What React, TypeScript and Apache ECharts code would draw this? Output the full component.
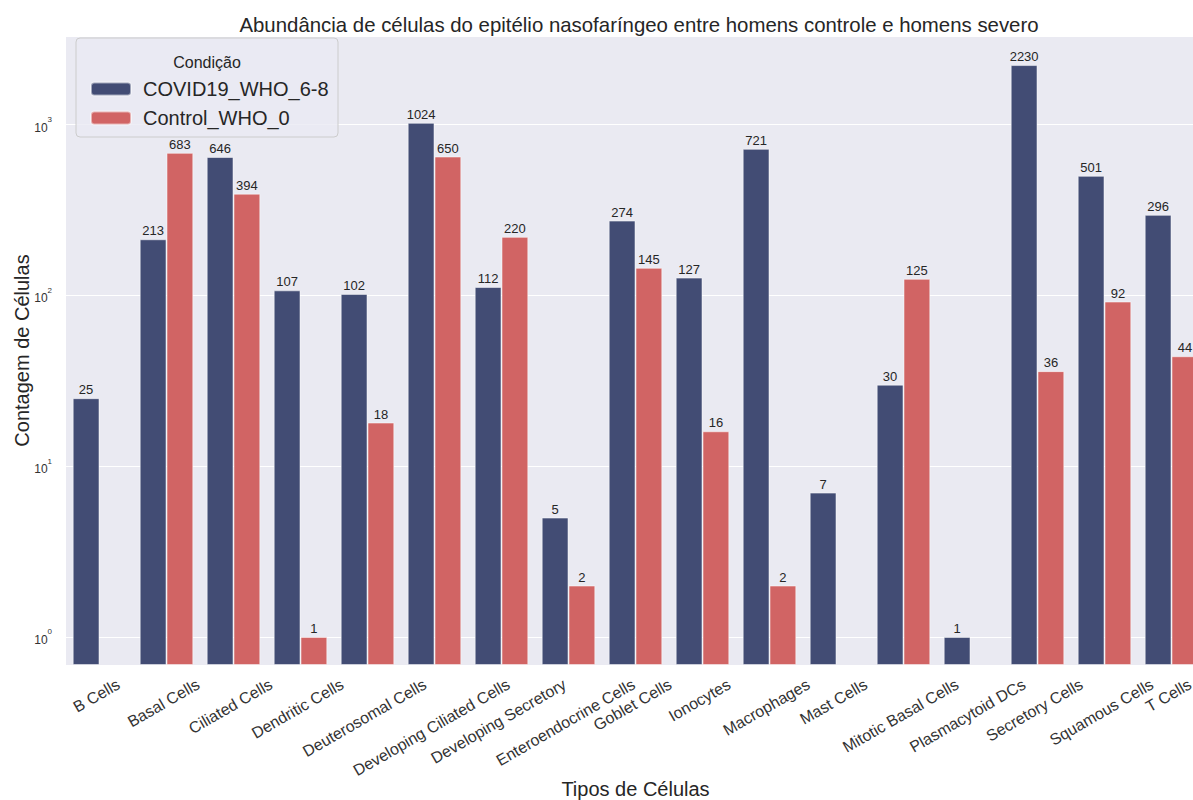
import React, { useEffect, useRef } from "react";
import * as echarts from "echarts";

const categories = [
  "B Cells", "Basal Cells", "Ciliated Cells", "Dendritic Cells", "Deuterosomal Cells",
  "Developing Ciliated Cells", "Developing Secretory", "Enteroendocrine Cells", "Goblet Cells",
  "Ionocytes", "Macrophages", "Mast Cells", "Mitotic Basal Cells", "Plasmacytoid DCs",
  "Secretory Cells", "Squamous Cells", "T Cells",
];
const covidValues = [25, 213, 646, 107, 102, 1024, 112, 5, 274, 127, 721, 7, 30, 1, 2230, 501, 296];
const controlValues = [null, 683, 394, 1, 18, 650, 220, 2, 145, 16, 2, null, 125, null, 36, 92, 44];
const seriesNames = ["COVID19_WHO_6-8", "Control_WHO_0"];
const colors = ["#424c74", "#d16464"];

const FONT = "'Liberation Sans', Arial, sans-serif";

export default function App() {
  const ref = useRef<HTMLDivElement>(null);
  useEffect(() => {
    if (!ref.current) return;
    const chart = echarts.init(ref.current, null, { renderer: "svg" });

    // measure label widths to center rotated labels under ticks (matplotlib-like ha=center)
    const cv = document.createElement("canvas");
    const ctx = cv.getContext("2d")!;
    ctx.font = "16px 'Liberation Sans', Arial, sans-serif";
    const rich: any = {};
    const dx = -3;
    categories.forEach((c, i) => {
      const w = ctx.measureText(c).width;
      const hb = w * 0.5 + 11.5 * 0.866;
      const D = 10 + hb / 2;
      const u = dx * 0.866 - D * 0.5;
      const v = dx * 0.5 + D * 0.866;
      rich["c" + i] = {
        fontSize: 16,
        fontFamily: FONT,
        color: "#333333",
        padding: [Math.max(0, 2 * v), Math.max(0, -2 * u), Math.max(0, -2 * v), Math.max(0, 2 * u)],
      };
    });

    const labelOpt = {
      show: true,
      position: "top",
      distance: 2,
      fontSize: 13,
      fontFamily: FONT,
      color: "#262626",
    };

    chart.setOption({
      animation: false,
      backgroundColor: "#ffffff",
      title: {
        text: "Abundância de células do epitélio nasofaríngeo entre homens controle e homens severo",
        left: 634,
        top: 10,
        textAlign: "center",
        textStyle: { fontSize: 20.4, fontWeight: "normal", color: "#262626", fontFamily: FONT },
      },
      grid: {
        left: 66,
        top: 36,
        width: 1139,
        height: 629,
        show: true,
        backgroundColor: "#eaeaf2",
        borderWidth: 0,
        outerBoundsMode: "none",
        containLabel: false,
      },
      legend: {
        data: seriesNames,
        orient: "vertical",
        left: 85,
        top: 73,
        itemWidth: 40,
        itemHeight: 13,
        itemGap: 7,
        z: 10,
        textStyle: { fontSize: 20, color: "#262626", fontFamily: FONT, padding: [0, 0, 0, 7], lineHeight: 22 },
      },
      graphic: [
        {
          type: "rect",
          z: 5,
          shape: { x: 76, y: 38, width: 262, height: 99, r: 4 },
          style: { fill: "rgba(234,234,242,0.8)", stroke: "#cccccc", lineWidth: 1 },
        },
        {
          type: "text",
          z: 6,
          x: 207,
          y: 62,
          style: {
            text: "Condição",
            fontSize: 16,
            fontFamily: FONT,
            fill: "#262626",
            align: "center",
            verticalAlign: "middle",
          },
        },
      ],
      xAxis: {
        type: "category",
        data: categories,
        name: "Tipos de Células",
        nameLocation: "middle",
        nameGap: 114,
        nameMoveOverlap: false,
        nameTextStyle: { fontSize: 20, color: "#262626", fontFamily: FONT },
        axisLine: { show: false },
        axisTick: { show: false },
        axisLabel: {
          interval: 0,
          rotate: 30,
          margin: 3,
          fontSize: 16,
          fontFamily: FONT,
          color: "#333333",
          align: "center",
          verticalAlign: "middle",
          hideOverlap: false,
          formatter: (v: string, i: number) => `{c${i}|${v}}`,
          rich,
        },
      },
      yAxis: {
        type: "log",
        logBase: 10,
        min: 0.685,
        max: 3300,
        startValue: 0.685,
        name: "Contagem de Células",
        nameLocation: "middle",
        nameGap: 34,
        nameMoveOverlap: false,
        nameTextStyle: { fontSize: 20, color: "#262626", fontFamily: FONT },
        axisLine: { show: false },
        axisTick: { show: false },
        splitLine: { show: true, lineStyle: { color: "#ffffff", width: 1 } },
        axisLabel: {
          showMinLabel: false,
          showMaxLabel: false,
          margin: 14,
          color: "#333333",
          formatter: (v: number) => {
            const e = Math.round(Math.log10(v));
            return `{b|10}{s|${e}}`;
          },
          rich: {
            b: { fontSize: 12, fontFamily: FONT, color: "#333333", verticalAlign: "bottom", lineHeight: 18 },
            s: { fontSize: 8, fontFamily: FONT, color: "#333333", verticalAlign: "top", lineHeight: 18 },
          },
        },
      },
      series: [
        {
          name: seriesNames[0],
          type: "bar",
          data: covidValues,
          barGap: "0%",
          barCategoryGap: "20%",
          itemStyle: { color: colors[0], borderColor: "rgba(255,255,255,0.5)", borderWidth: 1 },
          label: labelOpt,
        },
        {
          name: seriesNames[1],
          type: "bar",
          data: controlValues,
          barGap: "0%",
          barCategoryGap: "20%",
          itemStyle: { color: colors[1], borderColor: "rgba(255,255,255,0.5)", borderWidth: 1 },
          label: labelOpt,
        },
      ],
    });
    return () => chart.dispose();
  }, []);
  return (
    <div style={{ position: "absolute", left: 0, top: 0, width: 1193, height: 800, overflow: "hidden" }}>
      <div ref={ref} style={{ position: "absolute", left: 0, top: 0, width: 1215, height: 800 }} />
    </div>
  );
}
